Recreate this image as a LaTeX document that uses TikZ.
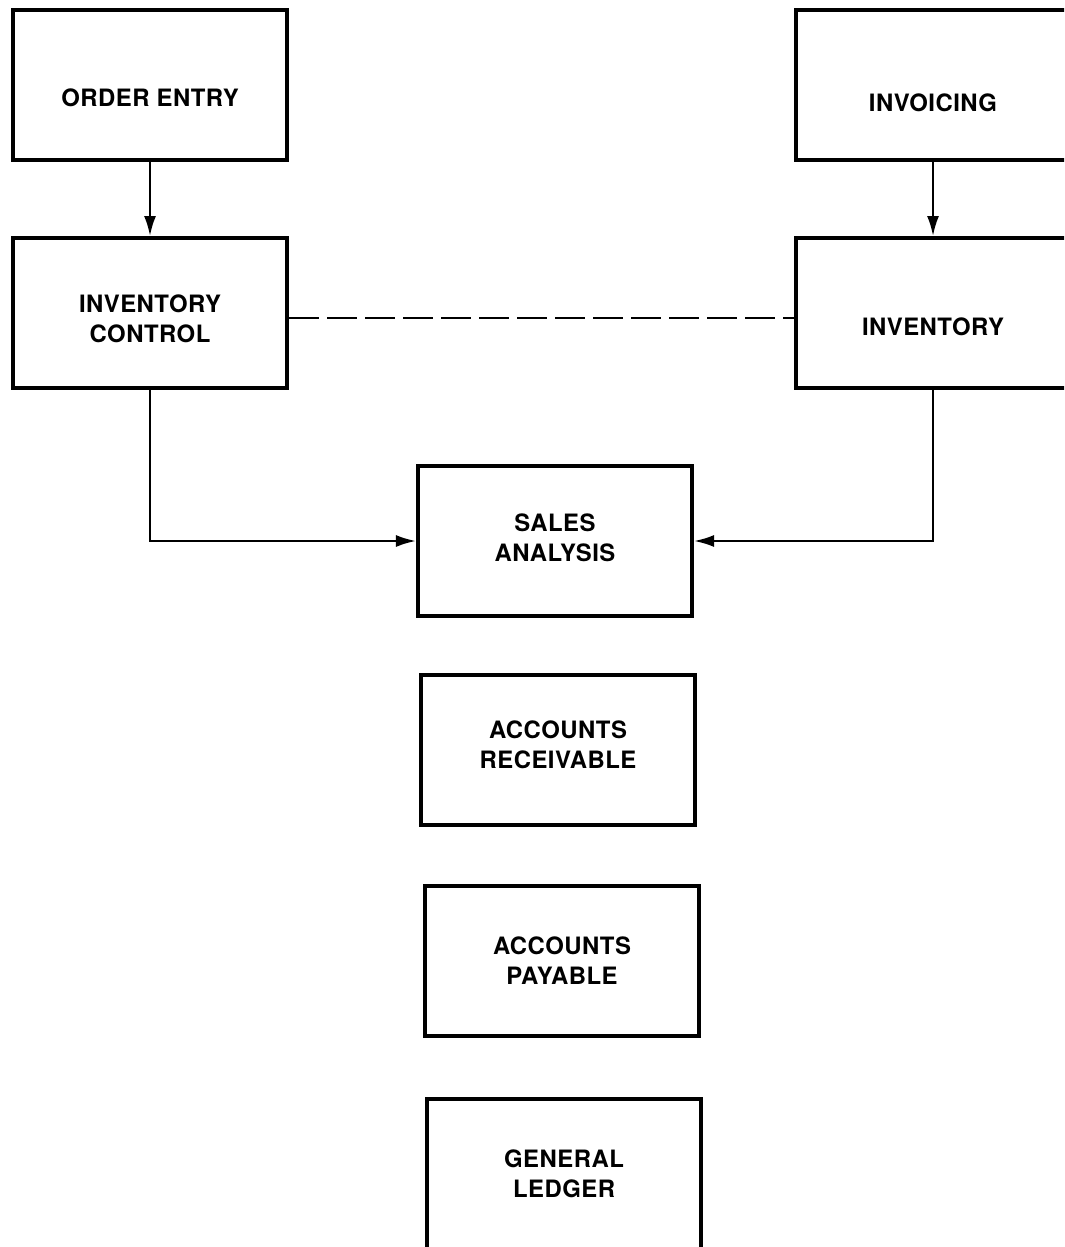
\documentclass[tikz,border=0pt]{standalone}
\usepackage{fontspec}
\setmainfont{TeX Gyre Heros}[LetterSpace=2]
\usetikzlibrary{arrows.meta}

\begin{document}
\begin{tikzpicture}[x=0.025cm,y=-0.025cm,
  module/.style={draw, line width=2.8pt, minimum width=6.85cm, minimum height=3.75cm},
  every label/.style={font=\bfseries\fontsize{17}{21.3}\selectfont, align=center, inner sep=0pt},
  flow/.style={line width=1.6pt, -{Latex[length=0.5cm,width=0.3cm]}}]

  \useasboundingbox (0,0) rectangle (1064,1247);
  \clip (0,0) rectangle (1064,1247);

  \node [module, label={[yshift=-0.33cm]center:ORDER ENTRY}] (order) at (150,85) {};
  \node [module, label={[yshift=-0.45cm]center:INVOICING}] (invoicing) at (933,85) {};
  \node [module, label={[yshift=-0.14cm]center:{INVENTORY\\CONTROL}}] (invctl) at (150,313) {};
  \node [module, label={[yshift=-0.35cm]center:INVENTORY}] (inventory) at (933,313) {};

  \node [module, label={[yshift=0.08cm]center:{SALES\\ANALYSIS}}] (sales) at (555,541) {};
  \node [module, label={[yshift=0.12cm]center:{ACCOUNTS\\RECEIVABLE}}] (receivable) at (558,750) {};
  \node [module, label={center:{ACCOUNTS\\PAYABLE}}] (payable) at (562,961) {};
  \node [module, label={center:{GENERAL\\LEDGER}}] (ledger) at (564,1174) {};

  \draw [flow] (order) -- (invctl);
  \draw [flow] (invoicing) -- (inventory);
  \draw [flow] (invctl) |- (sales);
  \draw [flow] (inventory) |- (sales);

  \draw [line width=1.6pt, dash pattern=on 0.75cm off 0.2cm] ([yshift=-0.125cm]invctl.east) -- ([yshift=-0.125cm]inventory.west);

\end{tikzpicture}
\end{document}
